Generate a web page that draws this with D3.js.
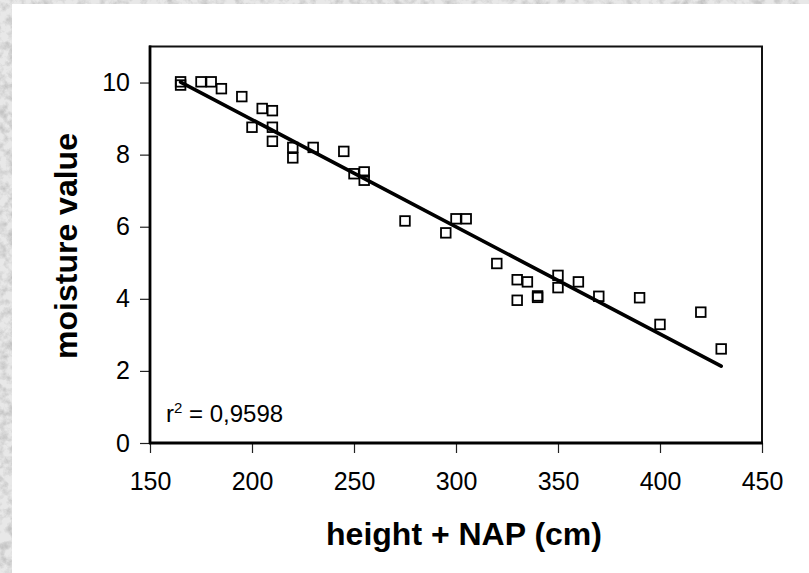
<!DOCTYPE html>
<html>
<head>
<meta charset="utf-8">
<script src="https://cdnjs.cloudflare.com/ajax/libs/d3/7.8.5/d3.min.js"></script>
<style>
  body { margin: 0; padding: 0; background: #fff; }
  svg { display: block; }
</style>
</head>
<body>
<div id="chart"></div>
<script>
// values
var heights = [165, 165, 175, 180, 185, 195, 200, 205, 210, 210, 210, 220, 220, 230,
               245, 250, 255, 255, 275, 295, 300, 305, 320, 330, 330, 335, 340, 340,
               350, 350, 360, 370, 390, 400, 420, 430];
var moisture = [10.02, 9.93, 10.02, 10.02, 9.83, 9.61, 8.76, 9.28, 9.22, 8.76, 8.37, 8.20, 7.91, 8.20,
                8.09, 7.47, 7.52, 7.29, 6.16, 5.83, 6.22, 6.22, 4.98, 4.53, 3.96, 4.47, 4.08, 4.04,
                4.65, 4.31, 4.47, 4.07, 4.03, 3.29, 3.63, 2.61];
var xTicks = [150, 200, 250, 300, 350, 400, 450];
var yTicks = [0, 2, 4, 6, 8, 10];
var fit = { intercept: 14.92, slope: -0.02974 };
var r2Text = "0,9598";

var svg_w = 809, svg_h = 573;
var plotL = 150, plotR = 762, plotT = 46.5, plotB = 443;

var svg = d3.select("#chart")
    .append("svg")
    .attr("width", svg_w)
    .attr("height", svg_h);

// marble-ish border at the left and top
var defs = svg.append("defs");
var filt = defs.append("filter").attr("id", "marble")
    .attr("filterUnits", "userSpaceOnUse")
    .attr("x", 0).attr("y", 0).attr("width", svg_w).attr("height", svg_h);
filt.append("feTurbulence")
    .attr("type", "fractalNoise")
    .attr("baseFrequency", 0.12)
    .attr("numOctaves", 4)
    .attr("seed", 7)
    .attr("result", "noise");
filt.append("feColorMatrix")
    .attr("in", "noise")
    .attr("type", "matrix")
    .attr("values", "0 0 0 0 0.55  0 0 0 0 0.55  0 0 0 0 0.55  -2.4 0 0 0 1.45");

svg.append("rect").attr("width", svg_w).attr("height", svg_h).style("fill", "#e8e8e8");
svg.append("rect").attr("width", svg_w).attr("height", svg_h)
    .attr("filter", "url(#marble)");
svg.append("rect")
    .attr("x", 12).attr("y", 4)
    .attr("width", svg_w - 12).attr("height", svg_h - 4)
    .style("fill", "#fff");

var x = d3.scaleLinear().domain([150, 450]).range([plotL, plotR]);
var y = d3.scaleLinear().domain([0, 11]).range([plotB, plotT]);

var font = "'Liberation Sans', Arial, Helvetica, sans-serif";

// axes
var yAxis = svg.append("g")
    .attr("transform", "translate(" + plotL + ",0)")
    .call(d3.axisLeft(y).tickValues(yTicks).tickSize(10).tickPadding(10));
var xAxis = svg.append("g")
    .attr("transform", "translate(0," + plotB + ")")
    .call(d3.axisBottom(x).tickValues(xTicks).tickSize(10).tickPadding(19));

[xAxis, yAxis].forEach(function (a) {
    a.select(".domain").remove();
    a.selectAll("line").style("stroke", "#222").style("stroke-width", 1.2);
    a.selectAll("text")
        .style("font-family", font)
        .style("font-size", "25px")
        .style("fill", "#000");
});

// frame
svg.append("rect")
    .attr("x", plotL).attr("y", plotT)
    .attr("width", plotR - plotL).attr("height", plotB - plotT)
    .style("fill", "none")
    .style("stroke", "#111")
    .style("stroke-width", 2);
svg.append("line")
    .attr("x1", plotL).attr("x2", plotL).attr("y1", plotT - 1).attr("y2", plotB + 1)
    .style("stroke", "#000").style("stroke-width", 2.8);
svg.append("line")
    .attr("x1", plotL - 1).attr("x2", plotR + 1).attr("y1", plotB).attr("y2", plotB)
    .style("stroke", "#000").style("stroke-width", 2.8);

// regression line
var xMin = d3.min(heights), xMax = d3.max(heights);
svg.append("line")
    .attr("x1", x(xMin)).attr("y1", y(fit.intercept + fit.slope * xMin))
    .attr("x2", x(xMax)).attr("y2", y(fit.intercept + fit.slope * xMax))
    .style("stroke", "#000")
    .style("stroke-width", 3.6)
    .style("stroke-linecap", "round");

// points
var pts = heights.map(function (h, i) { return { h: h, m: moisture[i] }; });
var sq = 9.6;
svg.append("g")
    .selectAll("rect")
    .data(pts)
    .enter()
    .append("rect")
    .attr("x", function (d) { return x(d.h) - sq / 2; })
    .attr("y", function (d) { return y(d.m) - sq / 2; })
    .attr("width", sq)
    .attr("height", sq)
    .style("fill", "none")
    .style("stroke", "#000")
    .style("stroke-width", 1.8);

// r squared
var r2 = svg.append("text")
    .attr("x", 166)
    .attr("y", 421.5)
    .style("font-family", font)
    .style("font-size", "24px")
    .style("fill", "#000");
r2.append("tspan").text("r");
r2.append("tspan").attr("dy", -9).style("font-size", "15px").text("2");
r2.append("tspan").attr("dy", 9).text(" = " + r2Text);

// axis titles
svg.append("text")
    .attr("x", 464)
    .attr("y", 545)
    .attr("text-anchor", "middle")
    .style("font-family", font)
    .style("font-size", "32px")
    .style("font-weight", "bold")
    .text("height + NAP (cm)");

svg.append("text")
    .attr("transform", "translate(77,246) rotate(-90)")
    .attr("text-anchor", "middle")
    .style("font-family", font)
    .style("font-size", "32px")
    .style("font-weight", "bold")
    .text("moisture value");
</script>
</body>
</html>
